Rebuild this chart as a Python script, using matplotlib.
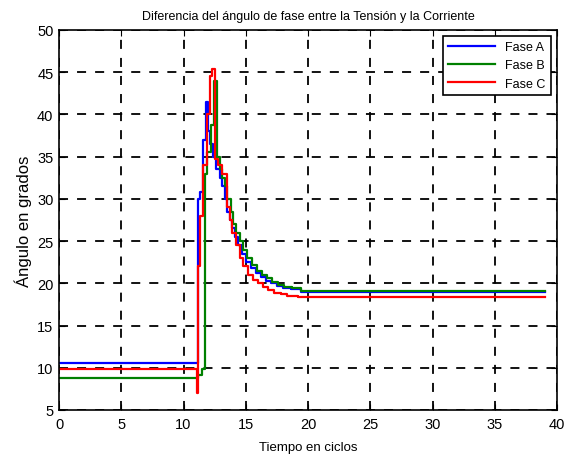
import matplotlib.pyplot as plt
import numpy as np

plt.rcParams['font.family'] = ['Liberation Sans', 'DejaVu Sans']

# Fase A
t_a = [0, 11.2, 11.35, 11.6, 11.8, 12.0, 12.15, 12.4, 12.6, 12.9, 13.1, 13.3, 13.5, 13.7,
       13.9, 14.1, 14.4, 14.7, 15.0, 15.4, 15.8, 16.2, 16.6, 17.0, 17.5, 18.0, 18.6, 19.4, 39]
y_a = [10.6, 30.0, 30.8, 37.0, 41.5, 38.0, 36.5, 35.0, 33.5, 32.5, 31.5, 30.0, 28.5, 27.5,
       26.5, 25.5, 24.5, 23.5, 22.5, 21.8, 21.2, 20.7, 20.3, 20.0, 19.7, 19.5, 19.3, 19.0, 19.0]

# Fase B
t_b = [0, 11.2, 11.5, 11.7, 11.9, 12.2, 12.45, 12.7, 12.9, 13.1, 13.3, 13.5, 13.8, 14.0,
       14.2, 14.5, 14.8, 15.1, 15.5, 15.9, 16.3, 16.7, 17.1, 17.6, 18.1, 18.7, 19.4, 39]
y_b = [8.8, 9.2, 9.8, 33.0, 35.5, 38.7, 44.0, 35.0, 33.5, 32.5, 31.5, 30.0, 28.5, 27.0,
       26.0, 25.0, 24.0, 23.0, 22.2, 21.5, 21.0, 20.6, 20.2, 19.8, 19.6, 19.4, 19.1, 19.1]

# Fase C
t_c = [0, 11.05, 11.2, 11.3, 11.6, 11.9, 12.1, 12.25, 12.5, 12.8, 13.1, 13.5, 13.7, 13.9,
       14.2, 14.5, 14.8, 15.2, 15.6, 16.0, 16.4, 16.8, 17.3, 17.8, 18.3, 19.2, 39]
y_c = [9.8, 7.0, 22.0, 28.0, 34.0, 40.0, 44.5, 45.4, 34.7, 34.0, 33.0, 29.0, 27.5, 26.0,
       24.5, 23.0, 22.0, 21.0, 20.4, 20.0, 19.6, 19.2, 18.9, 18.7, 18.5, 18.4, 18.4]

fig = plt.figure(figsize=(5.71, 4.56), dpi=100)
ax = fig.add_axes([59 / 571, 45 / 456, 498 / 571, 380 / 456])

ax.plot(t_a, y_a, color='#0000ff', lw=1.6, drawstyle='steps-post', label='Fase A')
ax.plot(t_b, y_b, color='#008000', lw=1.6, drawstyle='steps-post', label='Fase B')
ax.plot(t_c, y_c, color='#ff0000', lw=1.6, drawstyle='steps-post', label='Fase C')

ax.set_xlim(0, 40)
ax.set_ylim(5, 50)
ax.set_xticks(np.arange(0, 41, 5))
ax.set_yticks(np.arange(5, 51, 5))
ax.tick_params(direction='in', top=True, right=True, labelsize=10.5, length=4)
ax.tick_params(axis='x', pad=5)
ax.tick_params(axis='y', pad=4)
ax.grid(True, color='black', linestyle=(0, (5, 5)), linewidth=1.3)
for s in ax.spines.values():
    s.set_linewidth(1.2)

ax.set_title('Diferencia del ángulo de fase entre la Tensión y la Corriente', fontsize=9, pad=8)
ax.set_xlabel('Tiempo en ciclos', fontsize=9.5, labelpad=7)
ax.set_ylabel('Ángulo en grados', fontsize=12, labelpad=4)

leg = ax.legend(loc='upper right', fontsize=9, fancybox=False, framealpha=1,
                edgecolor='black', handlelength=3.8, borderaxespad=0.5)
leg.get_frame().set_linewidth(1.2)

fig.savefig('out.png', dpi=100)
